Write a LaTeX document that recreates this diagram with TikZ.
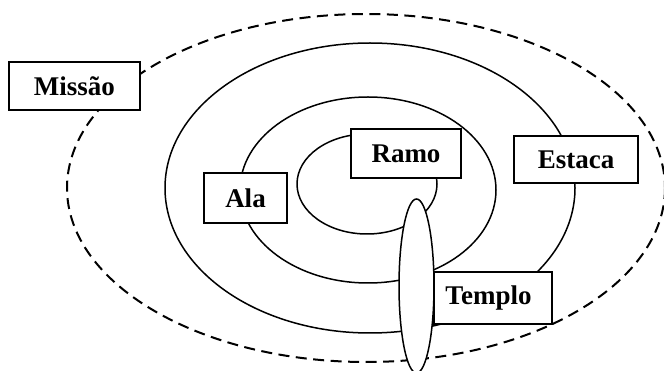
\documentclass[tikz,border=0pt]{standalone}
\usepackage{fontspec}
\setmainfont{Liberation Serif}
\begin{document}
\begin{tikzpicture}[x=1pt,y=-1pt,
  ring/.style={draw=black,line width=1.5pt},
  outerring/.style={draw=black,line width=2pt,dash pattern=on 11pt off 6.5pt},
  label/.style={draw=black,fill=white,line width=1.6pt,inner sep=0pt,
    font=\fontsize{27}{30}\selectfont\bfseries,text=black}]
\useasboundingbox (0,0) rectangle (664,371);
% rings
\draw[outerring] (366,188) ellipse [x radius=299, y radius=174];
\draw[ring] (370,188) ellipse [x radius=205, y radius=145];
\draw[ring] (368,190) ellipse [x radius=128, y radius=93];
\draw[ring] (367,184) ellipse [x radius=70, y radius=50];
% temple ellipse
\draw[ring,fill=white] (416.5,286) ellipse [x radius=17.5, y radius=87];
% labels
\node[label,minimum width=131pt,minimum height=48pt] (missao) at (74.5,86) {Missão};
\node[label,minimum width=110pt,minimum height=49pt] (ramo) at (406,153.5) {Ramo};
\node[label,minimum width=124pt,minimum height=47pt] (estaca) at (576,159.5) {Estaca};
\node[label,minimum width=83pt,minimum height=50pt] (ala) at (245.5,198) {Ala};
\node[label,minimum width=118pt,minimum height=52pt] (templo) at (493,298) {\hspace*{-9pt}Templo};
\end{tikzpicture}
\end{document}
